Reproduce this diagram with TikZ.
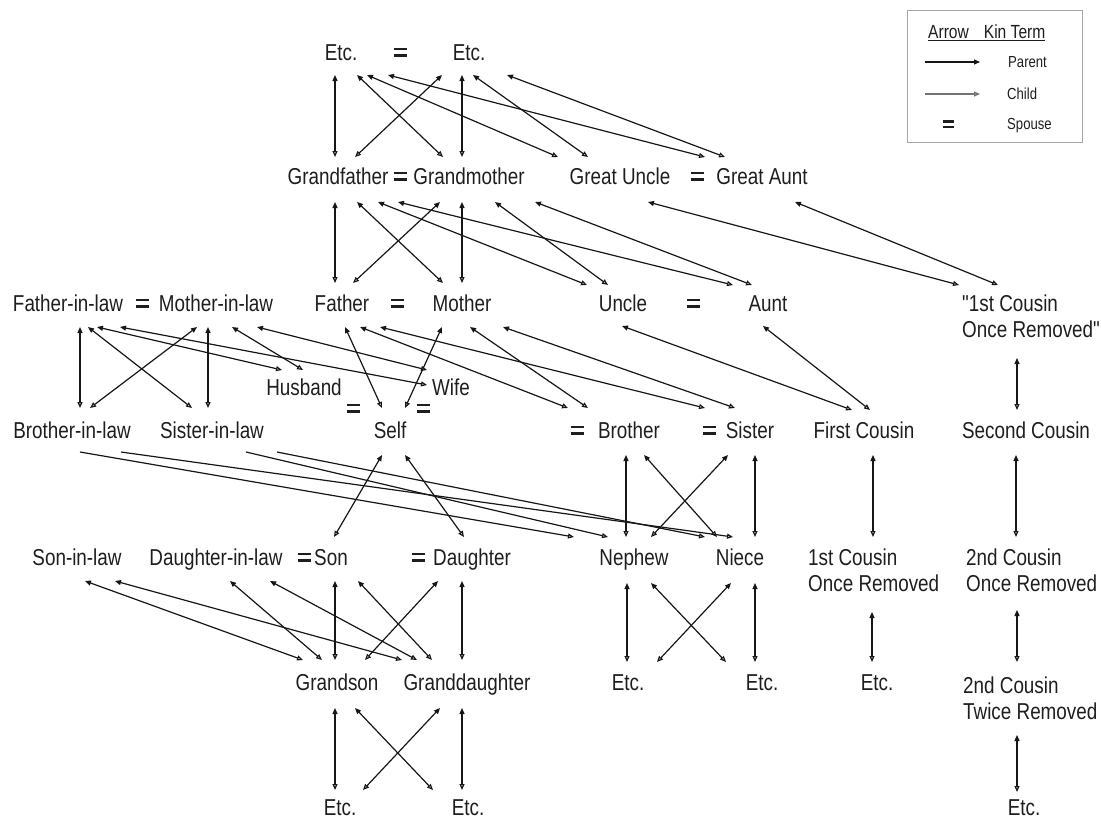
\documentclass[tikz,border=0pt]{standalone}
\usepackage{fontspec}
\setmainfont{Liberation Sans}[FakeStretch=0.82]
\newfontfamily\kinfont{Liberation Sans}[FakeStretch=0.82]
\usetikzlibrary{arrows.meta,calc}
\definecolor{txt}{HTML}{1E1E1E}
\definecolor{ln}{HTML}{161616}
\newcommand\spouseeq{\vbox{\hrule width 13pt height 2.8pt\vskip 3.4pt\hrule width 13pt height 2.8pt}}
\newcommand\smalleq{\vbox{\hrule width 11pt height 2.4pt\vskip 3pt\hrule width 11pt height 2.4pt}}
\begin{document}
\begin{tikzpicture}[x=1pt,y=-1pt,
  lab/.style={inner sep=0pt, font=\kinfont\fontsize{23}{26}\selectfont, text=txt, text height=16.5pt, text depth=0pt},
  labtwo/.style={lab, align=left, anchor=west},
  lg/.style={inner sep=0pt, font=\kinfont\fontsize{16}{18}\selectfont, text=txt, text height=11.5pt, text depth=0pt},
  lgh/.style={inner sep=0pt, font=\kinfont\fontsize{19}{21}\selectfont, text=txt, text height=13.5pt, text depth=0pt},
  eqs/.style={inner sep=0pt, text=txt},
  kin/.style={draw=ln, line width=1.2pt, arrows={Triangle[open,length=6pt,width=5pt]-Triangle[length=6pt,width=5pt]}},
  kinc/.style={draw=ln, line width=1.2pt, arrows={-Triangle[open,length=6pt,width=5pt]}},
]
\useasboundingbox (0,0) rectangle (1101,819);

% ---------- nodes ----------
\node[lab] (etcA) at (341,52) {Etc.};
\node[eqs] (eqTop) at (400,52) {\spouseeq};
\node[lab] (etcB) at (469,52) {Etc.};

\node[lab] (gf) at (338,176) {Grandfather};
\node[eqs] (eqGP) at (400,176) {\spouseeq};
\node[lab] (gm) at (469,176) {Grandmother};
\node[lab] (gu) at (620,176) {Great Uncle};
\node[eqs] (eqGU) at (697,176) {\spouseeq};
\node[lab] (ga) at (762,176) {Great Aunt};

\node[lab] (fil) at (68,303) {Father-in-law};
\node[eqs] (eqIL) at (142,303) {\spouseeq};
\node[lab] (mil) at (216,303) {Mother-in-law};
\node[lab] (fa) at (342,303) {Father};
\node[eqs] (eqP) at (397,303) {\spouseeq};
\node[lab] (mo) at (462,303) {Mother};
\node[lab] (un) at (623,303) {Uncle};
\node[eqs] (eqU) at (693,303) {\spouseeq};
\node[lab] (au) at (768,303) {Aunt};
\node[labtwo] (cor1) at (962,329) {"1st Cousin\\Once Removed"};

\node[lab] (hus) at (304,387) {Husband};
\node[lab] (wife) at (451,387) {Wife};
\node[eqs] (eqH) at (353,408) {\spouseeq};
\node[eqs] (eqW) at (423,408) {\spouseeq};

\node[lab] (bil) at (72,430) {Brother-in-law};
\node[lab] (sil) at (212,430) {Sister-in-law};
\node[lab] (self) at (390,430) {Self};
\node[eqs] (eqB) at (577,430) {\spouseeq};
\node[lab] (br) at (629,430) {Brother};
\node[eqs] (eqS) at (709,430) {\spouseeq};
\node[lab] (si) at (750,430) {Sister};
\node[lab] (fc) at (864,430) {First Cousin};
\node[lab] (sc) at (1026,430) {Second Cousin};

\node[lab] (sonil) at (77,557) {Son-in-law};
\node[lab] (dil) at (216,557) {Daughter-in-law};
\node[eqs] (eqSon) at (304,557) {\spouseeq};
\node[lab] (son) at (331,557) {Son};
\node[eqs] (eqD) at (418,557) {\spouseeq};
\node[lab] (da) at (472,557) {Daughter};
\node[lab] (ne) at (634,557) {Nephew};
\node[lab] (ni) at (740,557) {Niece};
\node[labtwo] (cor1b) at (808,583) {1st Cousin\\Once Removed};
\node[labtwo] (cor2b) at (966,583) {2nd Cousin\\Once Removed};

\node[lab] (gs) at (337,682) {Grandson};
\node[lab] (gd) at (467,682) {Granddaughter};
\node[lab] (etcN) at (628,682) {Etc.};
\node[lab] (etcNi) at (762,682) {Etc.};
\node[lab] (etcC) at (877,682) {Etc.};
\node[labtwo] (cor2t) at (963,711) {2nd Cousin\\Twice Removed};

\node[lab] (etcG1) at (340,807) {Etc.};
\node[lab] (etcG2) at (468,807) {Etc.};
\node[lab] (etcL) at (1024,807) {Etc.};

% ---------- connectors (child -> parent) ----------
\draw[kin] ($(gf)+(-3,-19)$) -- ($(etcA)+(-6,23)$);
\draw[kin] ($(gm)+(-26,-19)$) -- ($(etcA)+(16,23)$);
\draw[kin] ($(gu)+(-62,-19)$) -- ($(etcA)+(26,23)$);
\draw[kin] ($(ga)+(-57,-19)$) -- ($(etcA)+(47,23)$);
\draw[kin] ($(gf)+(17,-19)$) -- ($(etcB)+(-27,23)$);
\draw[kin] ($(gm)+(-7,-19)$) -- ($(etcB)+(-7,23)$);
\draw[kin] ($(gu)+(-32,-19)$) -- ($(etcB)+(4,23)$);
\draw[kin] ($(ga)+(-37,-19)$) -- ($(etcB)+(38,23)$);

\draw[kin] ($(fa)+(-7,-20)$) -- ($(gf)+(-3,26)$);
\draw[kin] ($(mo)+(-19,-20)$) -- ($(gf)+(19,26)$);
\draw[kin] ($(un)+(-36,-18)$) -- ($(gf)+(40,26)$);
\draw[kin] ($(au)+(-35,-18)$) -- ($(gf)+(60,26)$);
\draw[kin] ($(fa)+(11,-20)$) -- ($(gm)+(-29,26)$);
\draw[kin] ($(mo)+(0,-20)$) -- ($(gm)+(-7,26)$);
\draw[kin] ($(un)+(-15,-18)$) -- ($(gm)+(26,26)$);
\draw[kin] ($(au)+(-16,-18)$) -- ($(gm)+(66,26)$);
\draw[kin] ($(cor1.west)+(-3,-44)$) -- ($(gu)+(28,26)$);
\draw[kin] ($(cor1.west)+(36,-44)$) -- ($(ga)+(33,26)$);

\draw[kin] ($(bil)+(8,-22)$) -- ($(fil)+(12,24)$);
\draw[kin] ($(sil)+(-20,-22)$) -- ($(fil)+(20,24)$);
\draw[kin] ($(hus)+(-22,-17)$) -- ($(fil)+(29,24)$);
\draw[kin] ($(wife)+(-24,-2)$) -- ($(fil)+(52,24)$);
\draw[kin] ($(bil)+(18,-22)$) -- ($(mil)+(-19,24)$);
\draw[kin] ($(sil)+(-4,-22)$) -- ($(mil)+(-8,24)$);
\draw[kin] ($(hus)+(-1,-17)$) -- ($(mil)+(16,24)$);
\draw[kin] ($(wife)+(-24,-17)$) -- ($(mil)+(41,24)$);
\draw[kin] ($(self)+(-8,-22)$) -- ($(fa)+(3,24)$);
\draw[kin] ($(br)+(-61,-22)$) -- ($(fa)+(18,24)$);
\draw[kin] ($(si)+(-45,-22)$) -- ($(fa)+(38,24)$);
\draw[kin] ($(self)+(15,-22)$) -- ($(mo)+(-20,24)$);
\draw[kin] ($(br)+(-41,-22)$) -- ($(mo)+(8,24)$);
\draw[kin] ($(si)+(-15,-22)$) -- ($(mo)+(41,24)$);
\draw[kin] ($(fc)+(-12,-20)$) -- ($(un)+(-1,23)$);
\draw[kin] ($(fc)+(6,-20)$) -- ($(au)+(-5,23)$);
\draw[kin] ($(sc)+(-9,-20)$) -- ($(cor1.west)+(55,29)$);

\draw[kin] ($(son)+(3,-20)$) -- ($(self)+(-8,25)$);
\draw[kin] ($(da)+(-8,-20)$) -- ($(self)+(15,25)$);
\draw[kinc] ($(bil)+(8,22)$) -- ($(ne)+(-60,-20)$);
\draw[kinc] ($(bil)+(49,22)$) -- ($(ni)+(-7,-20)$);
\draw[kinc] ($(sil)+(34,22)$) -- ($(ne)+(-26,-20)$);
\draw[kinc] ($(sil)+(65,22)$) -- ($(ni)+(-35,-20)$);
\draw[kin] ($(ne)+(-8,-20)$) -- ($(br)+(-3,25)$);
\draw[kin] ($(ni)+(-23,-20)$) -- ($(br)+(15,25)$);
\draw[kin] ($(ne)+(17,-20)$) -- ($(si)+(-22,25)$);
\draw[kin] ($(ni)+(15,-20)$) -- ($(si)+(5,25)$);
\draw[kin] ($(cor1b.west)+(65,-46)$) -- ($(fc)+(9,25)$);
\draw[kin] ($(cor2b.west)+(50,-46)$) -- ($(sc)+(-10,25)$);

\draw[kin] ($(gs)+(-34,-22)$) -- ($(sonil)+(8,24)$);
\draw[kin] ($(gd)+(-65,-22)$) -- ($(sonil)+(38,24)$);
\draw[kin] ($(gs)+(-15,-22)$) -- ($(dil)+(14,24)$);
\draw[kin] ($(gd)+(-50,-22)$) -- ($(dil)+(54,24)$);
\draw[kin] ($(gs)+(-2,-22)$) -- ($(son)+(4,24)$);
\draw[kin] ($(gd)+(-35,-22)$) -- ($(son)+(27,24)$);
\draw[kin] ($(gs)+(28,-22)$) -- ($(da)+(-34,24)$);
\draw[kin] ($(gd)+(-5,-22)$) -- ($(da)+(-10,24)$);
\draw[kin] ($(etcN)+(-1,-20)$) -- ($(ne)+(-7,26)$);
\draw[kin] ($(etcNi)+(-36,-20)$) -- ($(ne)+(17,26)$);
\draw[kin] ($(etcN)+(29,-20)$) -- ($(ni)+(-9,26)$);
\draw[kin] ($(etcNi)+(-7,-20)$) -- ($(ni)+(15,26)$);
\draw[kin] ($(etcC)+(-5,-20)$) -- ($(cor1b.west)+(64,29)$);
\draw[kin] ($(cor2t.west)+(54,-49)$) -- ($(cor2b.west)+(51,27)$);

\draw[kin] ($(etcG1)+(-5,-17)$) -- ($(gs)+(-2,26)$);
\draw[kin] ($(etcG2)+(-35,-17)$) -- ($(gs)+(18,26)$);
\draw[kin] ($(etcG1)+(23,-17)$) -- ($(gd)+(-27,26)$);
\draw[kin] ($(etcG2)+(-6,-17)$) -- ($(gd)+(-5,26)$);
\draw[kin] ($(etcL)+(-7,-15)$) -- ($(cor2t.west)+(54,24)$);

% ---------- legend ----------
\draw[draw=black!35, line width=0.8pt] (907,10) rectangle (1082,142);
\node[lgh, anchor=west] (lhead) at (928,32) {\underline{Arrow\hspace{15pt}Kin Term}};
\coordinate (lpa) at (925,62);
\coordinate (lpb) at (980,62);
\draw[draw=ln, line width=1.1pt, -{Triangle[length=6pt,width=5pt]}] (lpa) -- (lpb);
\node[lg, anchor=west] (lpar) at (1008,62) {Parent};
\coordinate (lca) at (925,94);
\coordinate (lcb) at (980,94);
\draw[draw=black!55, line width=1.3pt, -{Triangle[open,length=6pt,width=5pt]}] (lca) -- (lcb);
\node[lg, anchor=west] (lch) at (1007,94) {Child};
\node[eqs] (leq) at (948,124) {\smalleq};
\node[lg, anchor=west] (lsp) at (1007,124) {Spouse};
\end{tikzpicture}
\end{document}
